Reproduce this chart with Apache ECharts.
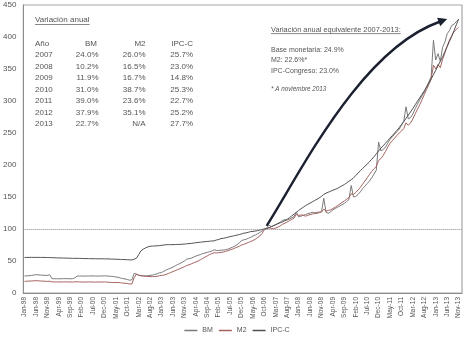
<!DOCTYPE html>
<html>
<head>
<meta charset="utf-8">
<script src="https://cdn.jsdelivr.net/npm/echarts@6/dist/echarts.min.js"></script>
<style>
  html, body { margin: 0; padding: 0; background: #fff; }
  #chart { width: 474px; height: 344px; }
</style>
</head>
<body>
<div id="chart"></div>
<script>
// Monthly index, Oct-2006 = 100. Series run Jan-98 .. Nov-13; the axis extends to Dec-13.
const monthNames = ['Jan','Feb','Mar','Apr','May','Jun','Jul','Aug','Sep','Oct','Nov','Dec'];
const firstYear = 1998, lastYear = 2013;
const categories = [];
for (let y = firstYear; y <= lastYear; y++) {
  for (let m = 0; m < 12; m++) categories.push(monthNames[m] + '-' + String(y).slice(2));
}

const seriesNames = ['BM', 'M2', 'IPC-C'];

// Base monetaria
const bm = [
  26.6, 26.8, 27.0, 27.5, 28.0, 28.6, 28.3, 28.0, 27.8, 27.6, 27.6, 28.5,
  22.5, 22.3, 22.2, 22.3, 22.2, 22.4, 22.5, 22.3, 22.2, 22.4, 23.5, 26.5,
  26.6, 26.5, 26.4, 26.6, 26.5, 26.7, 26.6, 26.5, 26.4, 26.6, 26.5, 27.0,
  26.5, 26.3, 26.0, 25.8, 25.0, 24.5, 23.5, 22.5, 22.0, 21.0, 20.0, 20.5,
  30.7, 29.5, 27.5, 27.0, 27.0, 26.8, 27.0, 27.5, 28.0, 29.0, 30.0, 31.5,
  32.0, 34.0, 36.0, 37.5, 39.0, 40.5, 42.5, 44.5, 46.0, 48.0, 50.0, 53.0,
  53.5, 54.5, 56.0, 57.5, 59.0, 60.0, 61.5, 62.5, 63.5, 64.5, 65.5, 67.5,
  66.5, 66.5, 67.0, 67.0, 67.5, 68.5, 70.0, 71.5, 73.0, 75.5, 78.0, 82.0,
  83.0, 84.0, 85.5, 87.0, 89.0, 90.5, 92.5, 94.5, 97.0, 100.0, 101.5, 106.0,
  104.0, 105.5, 107.0, 109.0, 111.0, 113.5, 114.5, 114.0, 115.5, 117.5, 119.5, 126.5,
  119.0, 120.0, 121.5, 122.5, 124.0, 125.0, 126.0, 125.5, 126.0, 126.5, 127.0, 148.0,
  126.0, 124.5, 127.0, 130.0, 132.0, 134.0, 136.0, 138.0, 140.0, 143.0, 146.0, 168.0,
  150.0, 151.0, 154.0, 158.0, 163.0, 167.0, 171.0, 175.0, 180.0, 186.0, 192.0, 236.0,
  222.0, 224.0, 228.0, 234.0, 240.0, 244.0, 248.0, 252.0, 256.0, 262.0, 268.0, 291.0,
  272.0, 274.0, 280.0, 288.0, 295.0, 302.0, 308.0, 314.0, 322.0, 330.0, 338.0, 395.0,
  364.0, 374.0, 362.0, 384.0, 392.0, 405.0, 410.0, 418.0, 420.0, 424.0, 427.0
];

// M2
const m2 = [
  18.2, 18.4, 18.6, 18.8, 19.0, 19.2, 19.0, 18.8, 18.6, 18.4, 18.2, 18.5,
  17.4, 17.3, 17.2, 17.3, 17.2, 17.3, 17.4, 17.3, 17.2, 17.2, 17.3, 17.6,
  17.3, 17.2, 17.1, 17.2, 17.3, 17.2, 17.1, 17.0, 17.1, 17.2, 17.1, 17.3,
  17.0, 16.8, 16.5, 16.4, 16.5, 16.4, 16.0, 15.5, 15.2, 14.8, 14.2, 14.0,
  24.0, 29.5, 28.0, 27.0, 26.5, 26.0, 25.8, 25.6, 25.6, 25.8, 26.0, 27.0,
  27.5, 28.0, 29.0, 30.5, 32.0, 33.5, 35.0, 36.5, 38.0, 39.5, 41.0, 43.0,
  44.0, 45.5, 47.0, 48.5, 50.0, 52.0, 54.0, 56.0, 58.0, 60.0, 61.5, 63.0,
  62.5, 63.0, 63.5, 64.0, 65.0, 66.0, 67.5, 68.5, 70.0, 71.5, 73.0, 75.0,
  76.0, 77.5, 79.0, 80.5, 82.0, 84.0, 86.5, 89.0, 93.0, 99.0, 100.5, 102.0,
  101.0, 100.5, 101.5, 103.0, 105.0, 107.5, 109.0, 111.0, 113.0, 115.0, 117.0, 123.0,
  121.0, 122.0, 121.5, 120.0, 121.5, 122.5, 123.5, 124.0, 124.5, 125.5, 126.5, 131.0,
  128.0, 129.0, 130.0, 132.0, 134.0, 136.5, 139.0, 141.5, 144.0, 146.5, 149.0, 155.0,
  154.0, 157.0, 161.0, 165.0, 170.0, 175.0, 180.0, 185.0, 190.0, 194.0, 198.0, 207.0,
  210.0, 215.0, 221.0, 228.0, 234.0, 238.0, 242.0, 246.0, 250.0, 253.0, 257.0, 266.0,
  262.0, 266.0, 272.0, 280.0, 287.0, 294.0, 302.0, 310.0, 318.0, 326.0, 334.0, 356.0,
  350.0, 357.0, 352.0, 365.0, 375.0, 386.0, 395.0, 402.0, 408.0, 412.0, 415.0
];

// IPC-Congreso (consumer prices)
const ipc = [
  55.5, 55.6, 55.6, 55.7, 55.6, 55.6, 55.7, 55.6, 55.6, 55.5, 55.4, 55.3,
  55.2, 55.1, 54.9, 54.8, 54.7, 54.6, 54.5, 54.5, 54.3, 54.2, 54.1, 54.2,
  54.1, 54.0, 53.8, 53.8, 53.7, 53.6, 53.6, 53.5, 53.4, 53.5, 53.4, 53.3,
  53.3, 53.2, 53.0, 52.9, 52.8, 52.6, 52.4, 52.3, 52.2, 52.0, 51.8, 51.6,
  52.8, 54.3, 60.0, 66.0, 68.5, 70.5, 72.0, 73.0, 73.3, 73.5, 73.7, 74.0,
  74.5, 75.0, 75.4, 75.6, 75.5, 75.6, 75.8, 75.9, 75.9, 76.2, 76.5, 76.8,
  77.2, 77.5, 78.0, 78.6, 79.0, 79.4, 79.8, 80.2, 80.5, 80.9, 81.2, 81.5,
  82.8, 83.6, 85.0, 85.5, 86.2, 87.1, 88.1, 88.7, 89.7, 90.4, 91.3, 92.3,
  93.5, 93.9, 94.9, 95.9, 96.3, 96.8, 97.4, 98.3, 99.3, 100.0, 100.8, 101.8,
  103.5, 105.0, 106.8, 108.3, 109.8, 111.2, 113.0, 115.2, 117.8, 120.5, 123.2, 126.0,
  129.0, 131.5, 134.0, 136.5, 138.5, 140.5, 142.5, 144.5, 146.5, 148.5, 151.0, 154.0,
  156.0, 157.5, 159.0, 160.5, 162.0, 163.5, 165.5, 167.5, 169.5, 172.0, 174.5, 177.0,
  180.0, 183.5, 187.5, 191.0, 194.5, 198.0, 201.5, 205.0, 209.0, 213.0, 217.5, 222.0,
  226.5, 230.0, 234.0, 238.0, 242.0, 246.0, 250.0, 254.0, 258.5, 263.0, 268.0, 273.0,
  278.0, 283.0, 288.5, 294.0, 299.5, 305.0, 310.5, 316.0, 322.0, 328.0, 334.5, 341.0,
  348.0, 355.0, 362.0, 369.0, 377.0, 385.0, 393.0, 401.0, 410.0, 419.0, 428.0
];

// Annual variation table
const tableTitle = 'Variación anual';
const tableHeader = ['Año', 'BM', 'M2', 'IPC-C'];
const years = ['2007', '2008', '2009', '2010', '2011', '2012', '2013'];
const bmRate = ['24.0%', '10.2%', '11.9%', '31.0%', '39.0%', '37.9%', '22.7%'];
const m2Rate = ['26.0%', '16.5%', '16.7%', '38.7%', '23.6%', '35.1%', 'N/A'];
const ipcRate = ['25.7%', '23.0%', '14.8%', '25.3%', '22.7%', '25.2%', '27.7%'];

// Equivalent annual variation summary
const summaryTitle = 'Variación anual equivalente 2007-2013:';
const summaryLines = ['Base monetaria: 24.9%', 'M2: 22.6%*', 'IPC-Congreso: 23.0%'];
const summaryNote = '* A noviembre 2013';

// Arrow path in data units: [month index, index value] for start, two control points, end
const arrowPath = [[106, 105], [121, 189], [147, 380], [185, 428]];

const colors = { BM: '#7a7a7a', M2: '#a4625d', 'IPC-C': '#505050' };
const textColor = '#555555';

const chart = echarts.init(document.getElementById('chart'), null, { renderer: 'canvas' });

const lineSeries = (name, data, extra) => Object.assign({
  name: name,
  type: 'line',
  data: data,
  showSymbol: false,
  symbol: 'none',
  smooth: false,
  animation: false,
  lineStyle: { width: 1, color: colors[name] },
  itemStyle: { color: colors[name] }
}, extra || {});

chart.setOption({
  animation: false,
  grid: {
    left: 22, right: 12, top: 5, bottom: 51,
    show: true, borderColor: '#a6a6a6', borderWidth: 1.2, backgroundColor: 'transparent'
  },
  legend: {
    bottom: 5, left: 'center',
    itemWidth: 13, itemHeight: 1.5, itemGap: 6,
    icon: 'rect',
    textStyle: { fontSize: 7, color: textColor, fontFamily: 'Liberation Sans' },
    data: seriesNames
  },
  xAxis: {
    type: 'category',
    data: categories,
    boundaryGap: true,
    axisLine: { lineStyle: { color: '#8c8c8c', width: 1 } },
    axisTick: { show: false },
    axisLabel: {
      interval: 4, rotate: 90, fontSize: 6.5, color: textColor,
      fontFamily: 'Liberation Sans', margin: 4
    },
    splitLine: { show: false }
  },
  yAxis: {
    type: 'value',
    min: 0, max: 450, interval: 50,
    axisLine: { show: true, lineStyle: { color: '#8c8c8c', width: 1 } },
    axisTick: { show: false },
    axisLabel: { fontSize: 8, color: textColor, fontFamily: 'Liberation Sans', margin: 7 },
    splitLine: { show: false }
  },
  series: [
    lineSeries('BM', bm),
    lineSeries('M2', m2),
    lineSeries('IPC-C', ipc, {
      markLine: {
        silent: true, symbol: 'none', animation: false,
        label: { show: false },
        lineStyle: { type: 'dotted', color: '#8a8a8a', width: 1 },
        data: [{ yAxis: 100 }]
      }
    })
  ]
});

// --- annotations ---
const measureCtx = document.createElement('canvas').getContext('2d');
function textWidth(str, font) { measureCtx.font = font; return measureCtx.measureText(str).width; }

const tableFont = '8px "Liberation Sans"';
const boxFont = '7px "Liberation Sans"';
const boxTitleFont = '7.4px "Liberation Sans"';
const noteFont = 'italic 6.3px "Liberation Sans"';
const elements = [];

function addText(str, x, y, font, align) {
  elements.push({
    type: 'text', x: x, y: y, silent: true,
    style: { text: str, font: font, fill: textColor, textAlign: align || 'left', textVerticalAlign: 'middle' }
  });
}
function addUnderline(str, x, y, font) {
  elements.push({
    type: 'line', silent: true,
    shape: { x1: x, y1: y, x2: x + textWidth(str, font), y2: y },
    style: { stroke: textColor, lineWidth: 0.7 }
  });
}

// Left table
const colX = [35, 97, 145.5, 193];
addText(tableTitle, colX[0], 20, tableFont);
addUnderline(tableTitle, colX[0], 24.5, tableFont);
addText(tableHeader[0], colX[0], 43.5, tableFont);
addText(tableHeader[1], colX[1], 43.5, tableFont, 'right');
addText(tableHeader[2], colX[2], 43.5, tableFont, 'right');
addText(tableHeader[3], colX[3], 43.5, tableFont, 'right');
years.forEach((yr, k) => {
  const y = 55.2 + k * 11.45;
  addText(yr, colX[0], y, tableFont);
  addText(bmRate[k], colX[1] + 1.5, y, tableFont, 'right');
  addText(m2Rate[k], colX[2], y, tableFont, 'right');
  addText(ipcRate[k], colX[3], y, tableFont, 'right');
});

// Right summary box
const boxX = 271;
addText(summaryTitle, boxX, 29.5, boxTitleFont);
addUnderline(summaryTitle, boxX, 33.6, boxTitleFont);
summaryLines.forEach((s, k) => addText(s, boxX, 50 + k * 10.5, boxFont));
addText(summaryNote, boxX, 89.5, noteFont);

// Curved arrow from the base month towards the latest values
const pts = arrowPath.map(p => chart.convertToPixel({ gridIndex: 0 }, p));
const [p0, p1, p2, p3] = pts;
let dx = p3[0] - p2[0], dy = p3[1] - p2[1];
const len = Math.sqrt(dx * dx + dy * dy); dx /= len; dy /= len;
const headLen = 9, headHalf = 4.5;
const base = [p3[0] - dx * headLen, p3[1] - dy * headLen];
const arrowColor = '#1b2130';
elements.push({
  type: 'bezierCurve', silent: true,
  shape: { x1: p0[0], y1: p0[1], cpx1: p1[0], cpy1: p1[1], cpx2: p2[0], cpy2: p2[1], x2: base[0] + dx * 1, y2: base[1] + dy * 1 },
  style: { stroke: arrowColor, lineWidth: 2.4, fill: null }
});
elements.push({
  type: 'polygon', silent: true,
  shape: { points: [
    [p3[0], p3[1]],
    [base[0] - dy * headHalf, base[1] + dx * headHalf],
    [base[0] + dy * headHalf, base[1] - dx * headHalf]
  ] },
  style: { fill: arrowColor }
});

chart.setOption({ graphic: { elements: elements } });
</script>
</body>
</html>
